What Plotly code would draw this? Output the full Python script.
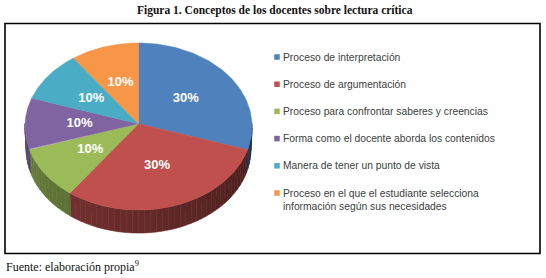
import numpy as np
import plotly.graph_objects as go

# ---------------- data ----------------
categories = [
    "Proceso de interpretación",
    "Proceso de argumentación",
    "Proceso para confrontar saberes y creencias",
    "Forma como el docente aborda los contenidos",
    "Manera de tener un punto de vista",
    "Proceso en el que el estudiante selecciona<br>información según sus necesidades",
]
values = [30, 30, 10, 10, 10, 10]
colors = ["#4F81BD", "#C0504D", "#9BBB59", "#8064A2", "#4BACC6", "#F79646"]
title_text = "Figura 1. Conceptos de los docentes sobre lectura crítica"
source_text = "Fuente: elaboración propia<sup>9</sup>"

# ---------------- 3D pie projection ----------------
W, H_PX = 546, 278
CX, TOP_Y = 138.5, 43.0
SC = 113.5          # radius scale in px
PHI = np.radians(47.3)
FOCAL = 20.0
DEPTH = 0.305
s, c = np.sin(PHI), np.cos(PHI)
CY = TOP_Y + SC * (s * FOCAL / (FOCAL + c))


def proj(r, theta_deg, y):
    t = np.radians(theta_deg)
    X = r * np.sin(t)
    Z = r * np.cos(t)
    yp = y * c + Z * s
    d = -y * s + Z * c
    k = FOCAL / (FOCAL + d)
    return CX + SC * X * k, CY - SC * yp * k


def shade(hex_color, f):
    h = hex_color.lstrip("#")
    rgb = [int(h[i:i + 2], 16) for i in (0, 2, 4)]
    return "rgb(%d,%d,%d)" % tuple(int(v * f) for v in rgb)


total = float(sum(values))
bounds = np.concatenate([[0.0], np.cumsum(values) / total * 360.0])

fig = go.Figure()

# side walls (front half only), drawn in thin segments to imitate shading
for i in range(len(values)):
    a0, a1 = max(bounds[i], 90.0), min(bounds[i + 1], 270.0)
    if a1 <= a0:
        continue
    edges = np.arange(a0, a1, 3.0).tolist() + [a1]
    for e0, e1 in zip(edges[:-1], edges[1:]):
        th = np.linspace(e0, e1, 4)
        tx, ty = proj(1.0, th, 0.0)
        bx, by = proj(1.0, th[::-1], -DEPTH)
        mid = (e0 + e1) / 2.0
        f = 0.36 + 0.34 * (mid - 90.0) / 180.0
        fig.add_trace(go.Scatter(
            x=np.concatenate([tx, bx, tx[:1]]), y=np.concatenate([ty, by, ty[:1]]),
            mode="lines", fill="toself", fillcolor=shade(colors[i], f),
            line=dict(width=0.6, color=shade(colors[i], f)),
            hoverinfo="skip", showlegend=False))

# top faces
for i in range(len(values)):
    th = np.linspace(bounds[i], bounds[i + 1], 80)
    ax, ay = proj(1.0, th, 0.0)
    ox, oy = proj(0.0, 0.0, 0.0)
    fig.add_trace(go.Scatter(
        x=np.concatenate([[ox], ax, [ox]]), y=np.concatenate([[oy], ay, [oy]]),
        mode="lines", fill="toself", fillcolor=colors[i],
        line=dict(width=0.5, color=colors[i]),
        hoverinfo="skip", showlegend=False))

# percentage labels
mids = (bounds[:-1] + bounds[1:]) / 2.0
lx, ly = proj(0.52, mids, 0.0)
fig.add_trace(go.Scatter(
    x=lx, y=ly, mode="text",
    text=["<b>%d%%</b>" % round(v / total * 100) for v in values],
    textfont=dict(family="Liberation Sans, Arial", size=13, color="white"),
    hoverinfo="skip", showlegend=False))

# legend (markers + text)
LEG_X, LEG_Y0, LEG_DY = 277.0, 57.0, 27.2
leg_y = [LEG_Y0 + i * LEG_DY for i in range(len(categories))]
fig.add_trace(go.Scatter(
    x=[LEG_X] * len(categories), y=leg_y, mode="markers",
    marker=dict(symbol="square", size=5.5, color=colors, line=dict(width=0)),
    hoverinfo="skip", showlegend=False))

annotations = []
for cat, yy in zip(categories, leg_y):
    annotations.append(dict(
        x=LEG_X + 4, y=yy - 7.5, xref="x", yref="y", xanchor="left", yanchor="top",
        text=cat, showarrow=False, align="left",
        font=dict(family="Liberation Sans, Arial", size=10.3, color="#404040")))

annotations.append(dict(
    x=275, y=10, xref="x", yref="y", xanchor="center", yanchor="middle",
    text="<b>" + title_text + "</b>", showarrow=False,
    font=dict(family="Liberation Serif, Times New Roman", size=11.5, color="#111111")))
annotations.append(dict(
    x=4, y=266, xref="x", yref="y", xanchor="left", yanchor="middle",
    text=source_text, showarrow=False,
    font=dict(family="Liberation Serif, Times New Roman", size=12, color="#111111")))

fig.update_layout(
    width=W, height=H_PX, autosize=False,
    margin=dict(l=0, r=0, t=0, b=0),
    paper_bgcolor="white", plot_bgcolor="white",
    xaxis=dict(range=[0, W], visible=False, fixedrange=True),
    yaxis=dict(range=[H_PX, 0], visible=False, fixedrange=True),
    annotations=annotations,
    shapes=[dict(type="rect", xref="x", yref="y", x0=5, x1=540, y0=23.5, y1=253.5,
                 line=dict(color="black", width=1.6), fillcolor="rgba(0,0,0,0)", layer="below")],
    showlegend=False,
)

fig.write_html("out.html", config={"displayModeBar": False},
               post_script="document.body.style.margin='0';document.body.style.overflow='hidden';")
